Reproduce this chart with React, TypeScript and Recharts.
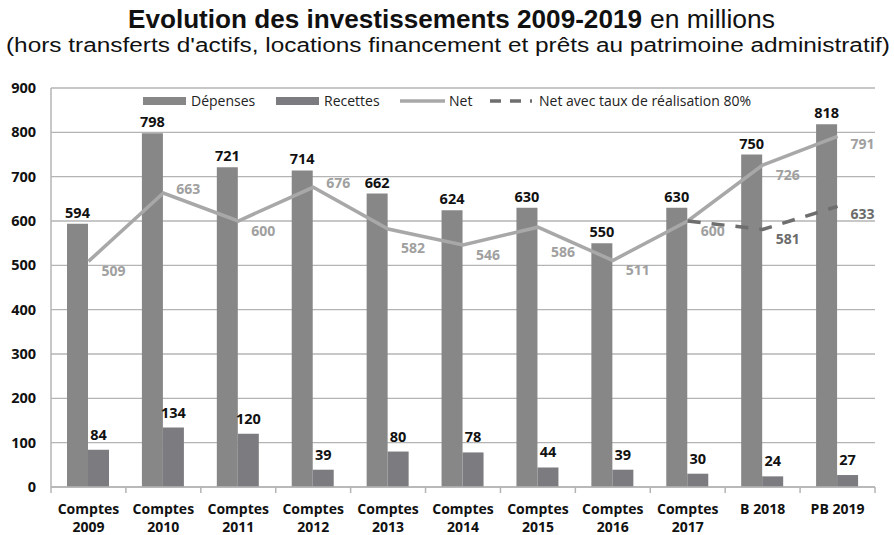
import { ComposedChart, Bar, Line, XAxis, YAxis, CartesianGrid, LabelList } from 'recharts'

const CATEGORIES = ['Comptes\n2009', 'Comptes\n2010', 'Comptes\n2011', 'Comptes\n2012', 'Comptes\n2013', 'Comptes\n2014', 'Comptes\n2015', 'Comptes\n2016', 'Comptes\n2017', 'B 2018', 'PB 2019']
const DEPENSES = [594, 798, 721, 714, 662, 624, 630, 550, 630, 750, 818]
const RECETTES = [84, 134, 120, 39, 80, 78, 44, 39, 30, 24, 27]
const NET = [509, 663, 600, 676, 582, 546, 586, 511, 600, 726, 791]
const NET_80 = [null, null, null, null, null, null, null, null, 600, 581, 633]
const Y_TICKS = [0, 100, 200, 300, 400, 500, 600, 700, 800, 900]

const W = 894
const H = 535
const PLOT_LEFT = 51
const PLOT_RIGHT = 875
const PLOT_TOP = 88
const PLOT_BOTTOM = 487
const Y_MAX = 900
const BAND = (PLOT_RIGHT - PLOT_LEFT) / CATEGORIES.length
const PX_PER_UNIT = (PLOT_BOTTOM - PLOT_TOP) / Y_MAX

const FONT = '"Open Sans", "Noto Sans", sans-serif'
const TITLE_FONT = '"Liberation Sans", Arial, sans-serif'
const C_DEP = '#878787'
const C_REC = '#7c7c80'
const C_NET = '#a8a8a8'
const C_NET80 = '#6e6e6e'
const C_GRID = '#b4b4b4'

const data = CATEGORIES.map((c, i) => ({
    cat: c,
    depenses: DEPENSES[i],
    recettes: RECETTES[i],
    net: NET[i],
    net80: NET_80[i],
}))

const XTick = (props: any) => {
    const { x, y, payload, index } = props
    const lines = String(payload.value).split('\n')
    const left = x - BAND / 2
    return (
        <g>
            <line x1={left} x2={left} y1={y} y2={y + 6} stroke={C_GRID} strokeWidth={1.5} />
            {index === CATEGORIES.length - 1 && (
                <line x1={x + BAND / 2} x2={x + BAND / 2} y1={y} y2={y + 6} stroke={C_GRID} strokeWidth={1.5} />
            )}
            {lines.map((l, i) => (
                <text key={i} x={x} y={y + 27 + i * 18} textAnchor="middle" fontFamily={FONT} fontWeight={700} fontSize={14} fill="#111">
                    {l}
                </text>
            ))}
        </g>
    )
}

// label to the right of the point: below it when the line rises,
// under the falling segment otherwise, beside the point on sharp peaks
const netLabel = (series: (number | null)[], color: string, skip?: (i: number, v: number) => boolean) => (props: any) => {
    const { x, y, value, index } = props
    if (value == null) return null
    if (skip && skip(index, value)) return null
    const prev = series[index - 1]
    const next = series[index + 1]
    let cy = y + 8
    if (next != null) {
        const isPeak = prev != null && value - prev > 60 && value - next > 60
        if (isPeak) cy = y - 4
        else if (next >= value) cy = y + 10
        else cy = y + (value - next) * PX_PER_UNIT / 3 + 14
    }
    return (
        <text x={x + 25} y={cy + 5} textAnchor="middle" fontFamily={FONT} fontWeight={700} fontSize={14} fill={color}>
            {value}
        </text>
    )
}

// legend drawn as an overlay so it doesn't shrink the plot area
const ChartLegend = () => (
    <g>
        <rect x={143} y={97} width={43} height={8} fill={C_DEP} />
        <text x={191} y={106} fontFamily={FONT} fontSize={14} fill="#222">Dépenses</text>
        <rect x={276} y={97} width={43} height={8} fill={C_REC} />
        <text x={324} y={106} fontFamily={FONT} fontSize={14} fill="#222">Recettes</text>
        <line x1={400} x2={445} y1={101} y2={101} stroke={C_NET} strokeWidth={3.5} />
        <text x={449} y={106} fontFamily={FONT} fontSize={14} fill="#222">Net</text>
        <line x1={490} x2={532} y1={101} y2={101} stroke={C_NET80} strokeWidth={3.5} strokeDasharray="11 9" />
        <text x={539} y={106} fontFamily={FONT} fontSize={14} fill="#222">Net avec taux de réalisation 80%</text>
    </g>
)

export default function App() {
    return (
        <div style={{ position: 'absolute', left: 0, top: 0, width: W, height: H, background: '#fff' }}>
            <ComposedChart width={W} height={H} data={data} margin={{ top: PLOT_TOP, right: W - PLOT_RIGHT, bottom: 0, left: 0 }} barGap={0}>
                <CartesianGrid vertical={false} stroke={C_GRID} strokeWidth={1.3} />
                <YAxis
                    width={PLOT_LEFT}
                    domain={[0, Y_MAX]}
                    ticks={Y_TICKS}
                    interval={0}
                    tickLine={false}
                    tickSize={0}
                    tickMargin={15}
                    axisLine={{ stroke: C_GRID, strokeWidth: 1.5 }}
                    tick={{ fontFamily: FONT, fontWeight: 700, fontSize: 14.5, fill: '#111' }}
                />
                <XAxis
                    dataKey="cat"
                    height={H - PLOT_BOTTOM}
                    interval={0}
                    tickLine={false}
                    tickSize={0}
                    tickMargin={0}
                    axisLine={{ stroke: C_GRID, strokeWidth: 1.5 }}
                    tick={<XTick />}
                />
                <Bar dataKey="depenses" name="Dépenses" fill={C_DEP} barSize={21} isAnimationActive={false}>
                    <LabelList dataKey="depenses" position="top" offset={6} style={{ fontFamily: FONT, fontWeight: 700, fontSize: 14.5, fill: '#111' }} />
                </Bar>
                <Bar dataKey="recettes" name="Recettes" fill={C_REC} barSize={21} isAnimationActive={false}>
                    <LabelList dataKey="recettes" position="top" offset={10} style={{ fontFamily: FONT, fontWeight: 700, fontSize: 14.5, fill: '#111' }} />
                </Bar>
                <Line dataKey="net" name="Net" type="linear" stroke={C_NET} strokeWidth={3.5} dot={false} isAnimationActive={false}>
                    <LabelList dataKey="net" content={netLabel(NET, '#a0a0a0')} />
                </Line>
                <Line dataKey="net80" name="Net avec taux de réalisation 80%" type="linear" stroke={C_NET80} strokeWidth={3.5} strokeDasharray="13 11" dot={false} connectNulls={false} isAnimationActive={false}>
                    <LabelList dataKey="net80" content={netLabel(NET_80, '#6b6b6b', (i, v) => NET[i] === v)} />
                </Line>
            </ComposedChart>
            <svg width={W} height={H} style={{ position: 'absolute', left: 0, top: 0, pointerEvents: 'none' }}>
                <text x={128} y={28} fontFamily={TITLE_FONT} fontWeight={700} fontSize={25} textLength={514} lengthAdjust="spacingAndGlyphs" fill="#111">
                    Evolution des investissements 2009-2019
                </text>
                <text x={650} y={28} fontFamily={TITLE_FONT} fontSize={25} textLength={125} lengthAdjust="spacingAndGlyphs" fill="#111">
                    en millions
                </text>
                <text x={6} y={52} fontFamily={TITLE_FONT} fontSize={20} textLength={884} lengthAdjust="spacingAndGlyphs" fill="#111">
                    (hors transferts d'actifs, locations financement et prêts au patrimoine administratif)
                </text>
                <ChartLegend />
            </svg>
        </div>
    )
}
